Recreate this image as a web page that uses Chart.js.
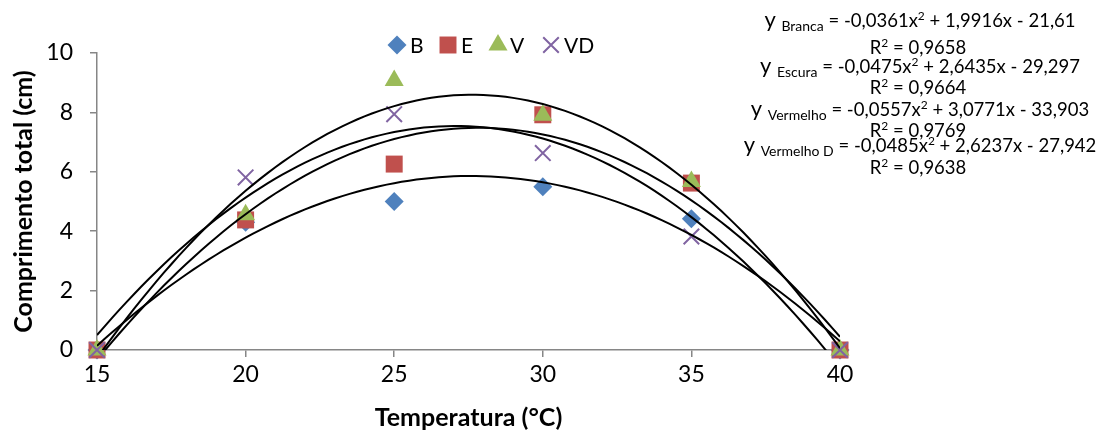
<!DOCTYPE html>
<html>
<head>
<meta charset="utf-8">
<script src="https://cdn.jsdelivr.net/npm/chart.js@4.4.1/dist/chart.umd.min.js"></script>
<style>
  html, body { margin: 0; background: #fff; }
  #wrap { width: 1096px; height: 433px; position: relative; }
</style>
</head>
<body>
<div id="wrap"><canvas id="chart"></canvas></div>
<script>
const temps     = [15, 20, 25, 30, 35, 40];
const branca    = [0, 4.3, 5.0, 5.5, 4.42, 0];
const escura    = [0, 4.38, 6.26, 7.92, 5.62, 0];
const vermelho  = [0, 4.55, 9.07, 7.9, 5.67, 0];
const vermelhoD = [0, 5.81, 7.94, 6.63, 3.82, 0];

const xTicks = [15, 20, 25, 30, 35, 40];
const yTicks = [0, 2, 4, 6, 8, 10];

// trendline coefficients [a, b, c] as printed on the chart: y = a x² + b x + c
const coefBranca    = [-0.0361, 1.9916, -21.61];
const coefEscura    = [-0.0475, 2.6435, -29.297];
const coefVermelho  = [-0.0557, 3.0771, -33.903];
const coefVermelhoD = [-0.0485, 2.6237, -27.942];

const eqLabels = [
  { sub: 'Branca',     rest: ['= -0,0361x', '2', ' + 1,9916x - 21,61'], r2: '0,9658' },
  { sub: 'Escura',     rest: ['= -0,0475x', '2', ' + 2,6435x - 29,297'], r2: '0,9664' },
  { sub: 'Vermelho',   rest: ['= -0,0557x', '2', ' + 3,0771x - 33,903'], r2: '0,9769' },
  { sub: 'Vermelho D', rest: ['= -0,0485x', '2', ' + 2,6237x - 27,942'], r2: '0,9638' },
];

const FONT = 'Lato, "Open Sans", sans-serif';
const BLUE = '#4F81BD', RED = '#C0504D', GREEN = '#9BBB59', PURPLE = '#8064A2';
const AXIS = '#868686';

const pts = ys => temps.map((t, i) => ({ x: t, y: ys[i] }));
function curve(c) {
  const out = [];
  for (let x = 15; x <= 40.001; x += 0.25) out.push({ x, y: c[0] * x * x + c[1] * x + c[2] });
  return out;
}
const trend = (c) => ({ type: 'line', data: curve(c), borderColor: '#000', borderWidth: 2,
  pointRadius: 0, fill: false, tension: 0, order: 0 });

const series = [
  { label: 'B',  data: pts(branca),    pointStyle: 'rectRot',  pointRadius: 9.5, color: BLUE,   order: 4 },
  { label: 'E',  data: pts(escura),    pointStyle: 'rect',     pointRadius: 12,  color: RED,    order: 3 },
  { label: 'V',  data: pts(vermelho),  pointStyle: 'triangle', pointRadius: 11,  color: GREEN,  order: 2 },
  { label: 'VD', data: pts(vermelhoD), pointStyle: 'crossRot', pointRadius: 11,  color: PURPLE, order: 1 },
].map(s => ({
  type: 'scatter', label: s.label, data: s.data, pointStyle: s.pointStyle,
  pointRadius: s.pointRadius, pointHoverRadius: s.pointRadius,
  backgroundColor: s.color, borderColor: s.color,
  pointBorderWidth: s.pointStyle === 'crossRot' ? 2 : 0, order: s.order, clip: false
}));

const overlay = {
  id: 'overlay',
  afterDraw(chart) {
    const ctx = chart.ctx;
    ctx.save();
    // legend
    const lx = [397, 448, 498, 551];
    const tx = [410, 461, 510, 564];
    const ly = 45;
    series.slice().sort((a, b) => b.order - a.order).forEach((s, i) => {
      ctx.fillStyle = s.backgroundColor;
      ctx.strokeStyle = s.borderColor;
      ctx.lineWidth = s.pointBorderWidth || 0;
      Chart.helpers.drawPoint(ctx, { pointStyle: s.pointStyle, radius: s.pointRadius, borderWidth: s.pointBorderWidth, rotation: 0 }, lx[i], ly);
      ctx.fillStyle = '#000';
      ctx.font = '21px ' + FONT;
      ctx.textBaseline = 'middle';
      ctx.textAlign = 'left';
      ctx.fillText(s.label, tx[i], ly + 1);
    });
    // trendline equations
    const cx = 920;
    const eqBase = [27, 73, 116, 152];
    const r2Base = [54, 94, 137, 174];
    ctx.textBaseline = 'alphabetic';
    ctx.fillStyle = '#000';
    eqLabels.forEach((e, i) => {
      const parts = [
        { t: 'y ', f: '22px ' + FONT, dy: 0 },
        { t: e.sub, f: '14px ' + FONT, dy: 4 },
        { t: ' ' + e.rest[0], f: '18.5px ' + FONT, dy: 0 },
        { t: e.rest[1], f: '12px ' + FONT, dy: -7 },
        { t: e.rest[2], f: '18.5px ' + FONT, dy: 0 },
      ];
      let w = 0;
      parts.forEach(p => { ctx.font = p.f; p.w = ctx.measureText(p.t).width; w += p.w; });
      let x = cx - w / 2;
      ctx.textAlign = 'left';
      parts.forEach(p => { ctx.font = p.f; ctx.fillText(p.t, x, eqBase[i] + p.dy); x += p.w; });
      const r = [
        { t: 'R', f: '18.5px ' + FONT, dy: 0 },
        { t: '2', f: '12px ' + FONT, dy: -7 },
        { t: ' = ' + e.r2, f: '18.5px ' + FONT, dy: 0 },
      ];
      w = 0;
      r.forEach(p => { ctx.font = p.f; p.w = ctx.measureText(p.t).width; w += p.w; });
      x = cx - 2 - w / 2;
      r.forEach(p => { ctx.font = p.f; ctx.fillText(p.t, x, r2Base[i] + p.dy); x += p.w; });
    });
    ctx.restore();
  }
};

new Chart(document.getElementById('chart'), {
  data: {
    datasets: [
      trend(coefBranca), trend(coefEscura), trend(coefVermelho), trend(coefVermelhoD),
      ...series
    ]
  },
  options: {
    responsive: true,
    maintainAspectRatio: false,
    animation: false,
    layout: { padding: { top: 53, right: 256, left: 0, bottom: 0 } },
    plugins: { legend: { display: false }, tooltip: { enabled: false } },
    scales: {
      x: {
        type: 'linear', min: 15, max: 40,
        afterBuildTicks: s => { s.ticks = xTicks.map(v => ({ value: v })); },
        afterFit: s => { s.height = 83; },
        border: { color: AXIS, width: 1.5 },
        grid: { drawOnChartArea: false, color: AXIS, tickLength: 7, lineWidth: 1.5 },
        ticks: { color: '#000', font: { family: FONT, size: 23 }, padding: 4, maxRotation: 0 },
        title: { display: true, text: 'Temperatura (°C)', color: '#000',
          font: { family: FONT, size: 25, weight: 'bold' }, padding: { top: 0, bottom: 0 } }
      },
      y: {
        min: 0, max: 10,
        afterBuildTicks: s => { s.ticks = yTicks.map(v => ({ value: v })); },
        afterFit: s => { s.width = 97; },
        border: { color: AXIS, width: 1.5 },
        grid: { drawOnChartArea: false, color: AXIS, tickLength: 7, lineWidth: 1.5 },
        ticks: { color: '#000', font: { family: FONT, size: 23 }, padding: 17 },
        title: { display: true, text: 'Comprimento total (cm)', color: '#000',
          font: { family: FONT, size: 25, weight: 'bold' }, padding: { top: 9, bottom: 0 } }
      }
    }
  },
  plugins: [overlay]
});
</script>
</body>
</html>
